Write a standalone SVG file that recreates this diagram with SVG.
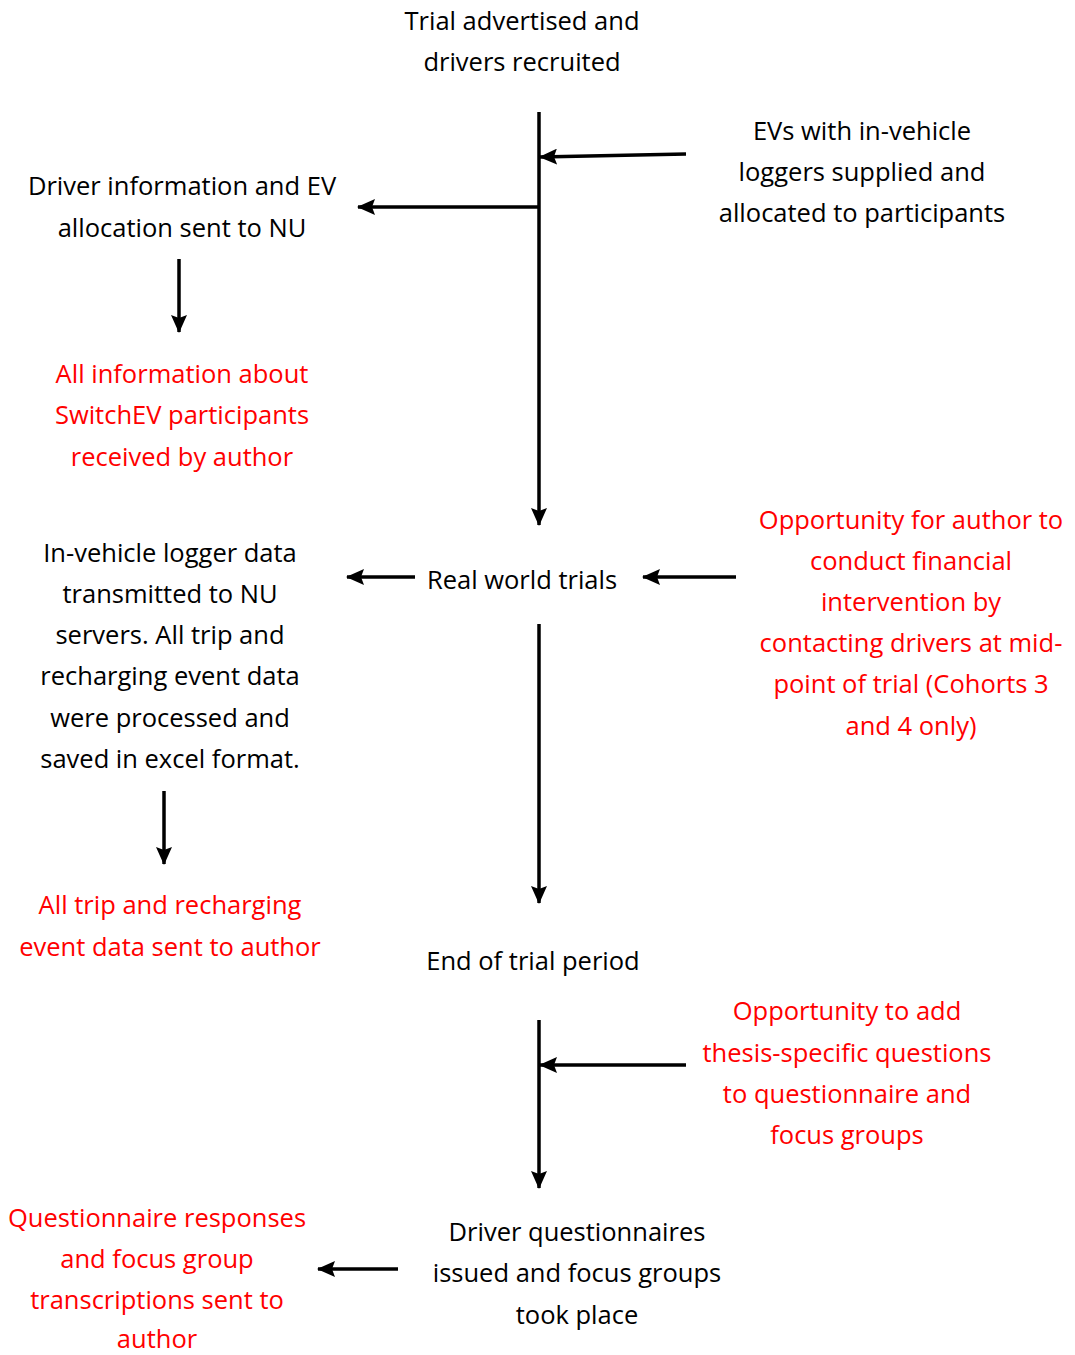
<svg xmlns="http://www.w3.org/2000/svg" width="1075" height="1355" viewBox="0 0 1075 1355">
<defs>
<marker id="ah" viewBox="0 0 18 16" refX="17" refY="8" markerWidth="18" markerHeight="16" markerUnits="userSpaceOnUse" orient="auto">
<path d="M0,0 L18,8 L0,16 L3,8 Z" fill="#000"/>
</marker>
</defs>
<style>
text{font-family:"Open Sans","Noto Sans",sans-serif;font-size:25.5px;text-anchor:middle;fill:#000}
.r{fill:#FF0000}
.c{stroke:#000;stroke-width:3.5;fill:none}
.a{marker-end:url(#ah)}
</style>
<rect width="1075" height="1355" fill="#fff"/>
<g id="connectors">
<line class="c a" x1="539" y1="112" x2="539" y2="525"/>
<line class="c a" x1="686" y1="154" x2="540" y2="157"/>
<line class="c a" x1="539" y1="207" x2="358" y2="207"/>
<line class="c a" x1="179" y1="259" x2="179" y2="332"/>
<line class="c a" x1="415" y1="577" x2="347" y2="577"/>
<line class="c a" x1="736" y1="577" x2="643" y2="577"/>
<line class="c a" x1="539" y1="624" x2="539" y2="903"/>
<line class="c a" x1="164" y1="791" x2="164" y2="864"/>
<line class="c a" x1="539" y1="1020" x2="539" y2="1188"/>
<line class="c a" x1="686" y1="1065" x2="540" y2="1065"/>
<line class="c a" x1="398" y1="1269" x2="318" y2="1269"/>
</g>
<g id="n1"><text x="522" y="30">Trial advertised and</text><text x="522" y="71">drivers recruited</text></g>
<g id="n2"><text x="862" y="140">EVs with in-vehicle</text><text x="862" y="181">loggers supplied and</text><text x="862" y="222">allocated to participants</text></g>
<g id="n3"><text x="182" y="195">Driver information and EV</text><text x="182" y="237">allocation sent to NU</text></g>
<g id="n4"><text class="r" x="182" y="383">All information about</text><text class="r" x="182" y="424">SwitchEV participants</text><text class="r" x="182" y="466">received by author</text></g>
<g id="n5"><text x="170" y="562">In-vehicle logger data</text><text x="170" y="603">transmitted to NU</text><text x="170" y="644">servers. All trip and</text><text x="170" y="685">recharging event data</text><text x="170" y="727">were processed and</text><text x="170" y="768">saved in excel format.</text></g>
<g id="n6"><text x="522" y="589">Real world trials</text></g>
<g id="n7"><text class="r" x="911" y="529">Opportunity for author to</text><text class="r" x="911" y="570">conduct financial</text><text class="r" x="911" y="611">intervention by</text><text class="r" x="911" y="652">contacting drivers at mid-</text><text class="r" x="911" y="693">point of trial (Cohorts 3</text><text class="r" x="911" y="735">and 4 only)</text></g>
<g id="n8"><text class="r" x="170" y="914">All trip and recharging</text><text class="r" x="170" y="956">event data sent to author</text></g>
<g id="n9"><text x="533" y="970">End of trial period</text></g>
<g id="n10"><text class="r" x="847" y="1020">Opportunity to add</text><text class="r" x="847" y="1062">thesis-specific questions</text><text class="r" x="847" y="1103">to questionnaire and</text><text class="r" x="847" y="1144">focus groups</text></g>
<g id="n11"><text class="r" x="157" y="1227">Questionnaire responses</text><text class="r" x="157" y="1268">and focus group</text><text class="r" x="157" y="1309">transcriptions sent to</text><text class="r" x="157" y="1348">author</text></g>
<g id="n12"><text x="577" y="1241">Driver questionnaires</text><text x="577" y="1282">issued and focus groups</text><text x="577" y="1324">took place</text></g>
</svg>
